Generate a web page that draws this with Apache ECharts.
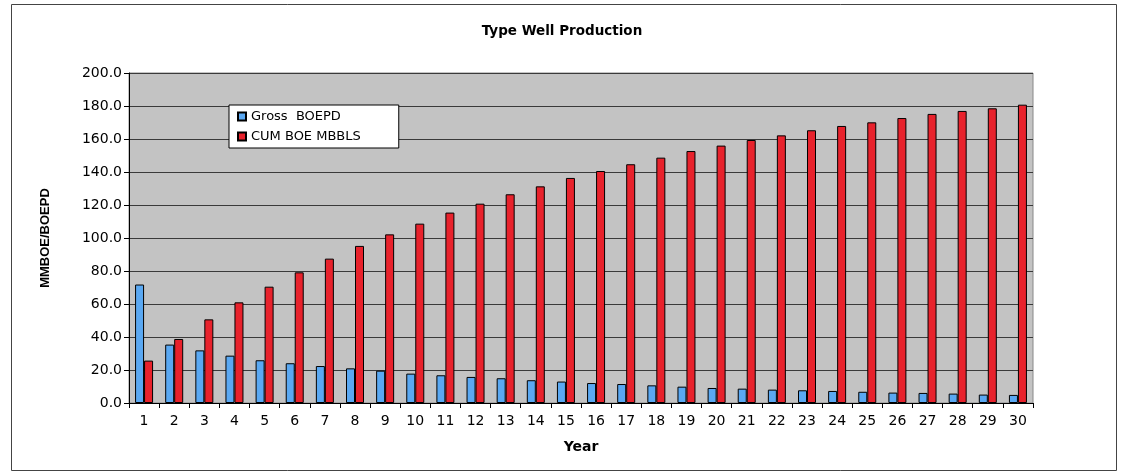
<!DOCTYPE html>
<html>
<head>
<meta charset="utf-8">
<script src="https://cdn.jsdelivr.net/npm/echarts@6/dist/echarts.min.js"></script>
<style>html,body{margin:0;padding:0;background:#fff;}#c{width:1124px;height:473px;}</style>
</head>
<body>
<div id="c"></div>
<script>
const years = ['1','2','3','4','5','6','7','8','9','10','11','12','13','14','15','16','17','18','19','20','21','22','23','24','25','26','27','28','29','30'];
const grossBOEPD = [71.8, 35.4, 31.9, 28.7, 25.9, 24.1, 22.4, 21.0, 19.6, 17.8, 16.8, 15.8, 15.0, 13.8, 13.0, 12.1, 11.5, 10.7, 9.9, 9.1, 8.7, 8.1, 7.7, 7.3, 6.8, 6.3, 6.1, 5.7, 5.1, 4.9];
const cumBOE = [25.7, 38.8, 50.7, 61.0, 70.5, 79.2, 87.5, 95.2, 102.2, 108.7, 115.4, 120.8, 126.5, 131.3, 136.4, 140.6, 144.7, 148.7, 152.7, 156.0, 159.4, 162.2, 165.3, 167.9, 170.1, 172.7, 175.2, 177.0, 178.6, 180.8];
const seriesNames = ['Gross  BOEPD', 'CUM BOE MBBLS'];

const chart = echarts.init(document.getElementById('c'), null, {renderer: 'canvas'});
const font = '"DejaVu Sans", "Liberation Sans", Arial, sans-serif';
const boldFont = '"Liberation Sans", Arial, sans-serif';
chart.setOption({
  animation: false,
  backgroundColor: '#fff',
  textStyle: {fontFamily: font},
  title: {
    text: 'Type Well Production', left: 'center', top: 19,
    textStyle: {fontSize: 13.5, fontWeight: 'bold', color: '#000', fontFamily: font}
  },
  graphic: [{
    type: 'rect', shape: {x: 11.5, y: 4.5, width: 1105, height: 466},
    style: {fill: 'none', stroke: '#444', lineWidth: 1}, z: -1
  }],
  legend: {
    data: seriesNames, orient: 'vertical', left: 229, top: 105,
    backgroundColor: '#fff', borderColor: '#000', borderWidth: 1,
    padding: [5, 38, 5, 8], itemWidth: 8, itemHeight: 8, itemGap: 7,
    textStyle: {fontSize: 13, color: '#000', fontFamily: font},
    icon: 'rect'
  },
  grid: {
    left: 129, right: 91, top: 73, bottom: 70, show: true,
    backgroundColor: '#c3c3c3', borderColor: '#888', borderWidth: 1
  },
  xAxis: {
    type: 'category', data: years,
    name: 'Year', nameLocation: 'middle', nameGap: 37,
    nameTextStyle: {fontSize: 14, fontWeight: 'bold', color: '#000', fontFamily: font},
    axisLine: {lineStyle: {color: '#000', width: 1}},
    axisTick: {show: true, length: 5, lineStyle: {color: '#000'}},
    axisLabel: {fontSize: 14, color: '#000', margin: 11, fontFamily: font}
  },
  yAxis: {
    type: 'value', min: 0, max: 200, interval: 20,
    name: 'MMBOE/BOEPD', nameLocation: 'middle', nameGap: 77, nameRotate: 90,
    nameTextStyle: {fontSize: 13, fontWeight: 'bold', color: '#000', fontFamily: boldFont},
    axisLine: {show: true, lineStyle: {color: '#000', width: 1}},
    axisTick: {show: true, length: 5, lineStyle: {color: '#000'}},
    axisLabel: {fontSize: 14, color: '#000', margin: 7, fontFamily: font,
      formatter: v => v.toFixed(1)},
    splitLine: {show: true, lineStyle: {color: '#3a3a3a', width: 1}}
  },
  series: [
    {name: seriesNames[0], type: 'bar', data: grossBOEPD, barWidth: 9, barGap: '0%',
     itemStyle: {color: '#5aa8f2', borderColor: '#000', borderWidth: 1}},
    {name: seriesNames[1], type: 'bar', data: cumBOE, barWidth: 9, barGap: '0%',
     itemStyle: {color: '#e8222c', borderColor: '#000', borderWidth: 1}}
  ]
});
</script>
</body>
</html>
